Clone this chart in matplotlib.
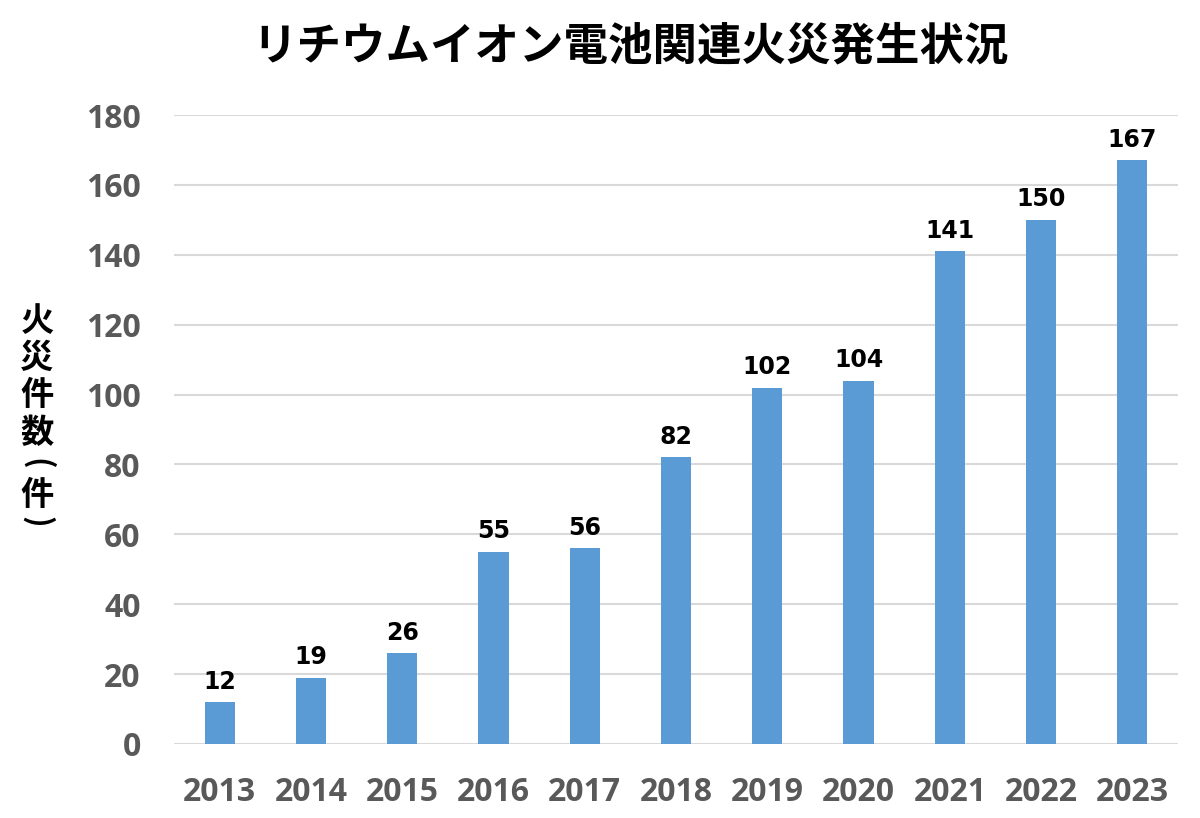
import matplotlib
matplotlib.use("Agg")
import matplotlib.pyplot as plt

plt.rcParams['font.family'] = ['Noto Sans CJK JP', 'DejaVu Sans']

years = ["2013", "2014", "2015", "2016", "2017", "2018", "2019", "2020", "2021", "2022", "2023"]
fires = [12, 19, 26, 55, 56, 82, 102, 104, 141, 150, 167]
yticks = [0, 20, 40, 60, 80, 100, 120, 140, 160, 180]
title = "リチウムイオン電池関連火災発生状況"
ylabel_chars = ["火", "災", "件", "数", "(", "件", ")"]

W, H = 1200, 818
fig = plt.figure(figsize=(W / 100, H / 100), dpi=100)
ax = fig.add_axes([174 / W, 1 - 744 / H, (1178 - 174) / W, (744 - 115) / H])

x = list(range(len(years)))
ax.bar(x, fires, width=0.33, color="#5B9BD5", zorder=3)
for xi, v in zip(x, fires):
    ax.annotate(str(v), (xi, v), xytext=(0, 6), textcoords="offset points",
                ha="center", va="bottom", fontsize=17, fontweight="bold",
                family="DejaVu Sans", color="black")

ax.set_xlim(-0.5, len(years) - 0.5)
ax.set_ylim(0, 180)
ax.set_yticks(yticks)
ax.set_xticks(x)
ax.set_xticklabels(years, fontfamily="Open Sans", fontweight="bold")
ax.set_yticklabels([str(t) for t in yticks], fontfamily="Open Sans", fontweight="bold")
ax.grid(axis="y", color="#D9D9D9", linewidth=1.5, zorder=0)
for s in ax.spines.values():
    s.set_visible(False)
ax.tick_params(axis="both", length=0, labelcolor="#595959", labelsize=23)
ax.tick_params(axis="x", pad=23)
ax.tick_params(axis="y", pad=24)

fig.text(631 / W, 1 - 47 / H, title, ha="center", va="center",
         fontsize=32, fontweight="bold", color="black")

ylabel_pos = [322, 358, 395, 433, 464, 495, 522]
for ch, yp in zip(ylabel_chars, ylabel_pos):
    rot = -90 if ch in "()" else 0
    fig.text(37 / W, 1 - yp / H, ch, ha="center", va="center", rotation=rot,
             fontsize=24 if rot == 0 else 22, fontweight="bold", color="black")

fig.savefig("out.png", dpi=100)
